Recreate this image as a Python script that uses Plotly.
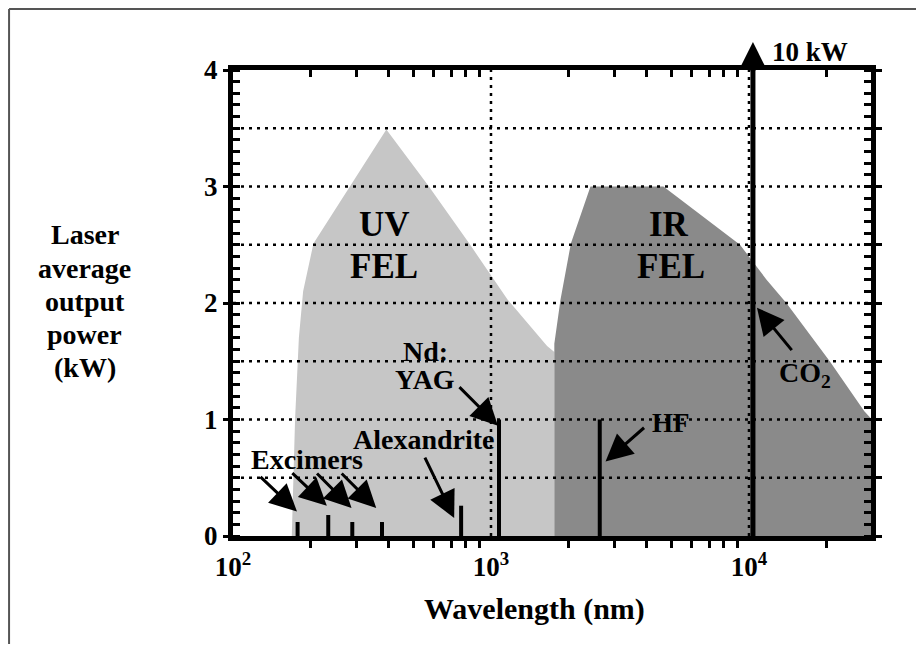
import numpy as np
import plotly.graph_objects as go

# ---------------- data ----------------
UV_WL = [169, 174, 180, 187, 205, 393, 570, 824, 1159, 1450, 1650, 1760, 1760]
UV_P = [0, 1.0, 1.7, 2.1, 2.51, 3.49, 3.01, 2.51, 2.03, 1.78, 1.63, 1.58, 0]

IR_WL = [1760, 1760, 1860, 2040, 2430, 4660, 9230, 11700, 13960, 20560, 28000, 30000, 30000]
IR_P = [0, 1.65, 2.03, 2.51, 3.0, 3.0, 2.5, 2.2, 2.0, 1.5, 1.07, 1.0, 0]

LASER_NAMES = ["ArF", "KrF", "XeCl", "XeF", "Alexandrite", "Nd:YAG", "HF"]
LASER_WL = [178, 234, 290, 378, 766, 1074, 2640]
LASER_P = [0.12, 0.18, 0.12, 0.12, 0.26, 1.0, 1.0]
CO2_WL = 10360
CO2_P = 10.0  # kW, off the scale

X_TICKS = [100, 1000, 10000]
X_TICKTEXT = ["10<sup>2</sup>", "10<sup>3</sup>", "10<sup>4</sup>"]
X_MINOR = [200, 300, 400, 500, 600, 700, 800, 900,
           2000, 3000, 4000, 5000, 6000, 7000, 8000, 9000, 20000]
Y_TICKS = [0, 1, 2, 3, 4]
GRID_Y = [0.5, 1.0, 1.5, 2.0, 2.5, 3.0, 3.5]
GRID_X = [1000, 10000]
X_RANGE = [2, 4.473]   # log10 units
Y_RANGE = [0, 4]
Y_TITLE_LINES = ["Laser", "average", "output", "power", "(kW)"]

# pointer arrows: head wavelength, head power, tail offset in pixels
ARROWS = [
    (177, 0.21, -38, -36),
    (231, 0.26, -36, -34),
    (288, 0.24, -36, -36),
    (359, 0.24, -36, -36),
    (720, 0.154, -30, -62),
    (1064, 0.947, -40, -40),
    (2780, 0.64, 40, -35),
    (10740, 1.96, 36, 44),
]

FONT = "Liberation Serif"
L = np.log10

fig = go.Figure()

# FEL regions
fig.add_trace(go.Scatter(x=UV_WL, y=UV_P, fill="toself", mode="lines",
                         line=dict(width=0), fillcolor="#c6c6c6",
                         hoverinfo="skip", showlegend=False))
fig.add_trace(go.Scatter(x=IR_WL, y=IR_P, fill="toself", mode="lines",
                         line=dict(width=0), fillcolor="#8a8a8a",
                         hoverinfo="skip", showlegend=False))

# dotted grid drawn above the shaded regions
xmin, xmax = 10 ** X_RANGE[0], 10 ** X_RANGE[1]
gx, gy = [], []
for v in GRID_Y:
    gx += [xmin, xmax, None]
    gy += [v, v, None]
for v in GRID_X:
    gx += [v, v, None]
    gy += [Y_RANGE[0], Y_RANGE[1], None]
fig.add_trace(go.Scatter(x=gx, y=gy, mode="lines",
                         line=dict(color="black", width=2.5, dash="3px,5px"),
                         hoverinfo="skip", showlegend=False))

# laser lines
lx, ly = [], []
for w, p in zip(LASER_WL, LASER_P):
    lx += [w, w, None]
    ly += [0, p, None]
fig.add_trace(go.Scatter(x=lx, y=ly, mode="lines",
                         line=dict(color="black", width=4),
                         hoverinfo="skip", showlegend=False))
fig.add_trace(go.Scatter(x=[CO2_WL, CO2_WL], y=[0, CO2_P], mode="lines",
                         line=dict(color="black", width=5),
                         hoverinfo="skip", showlegend=False))

# dummy trace for the mirrored (top/right) axes
fig.add_trace(go.Scatter(x=[1000], y=[0], xaxis="x2", yaxis="y2",
                         mode="markers", opacity=0, hoverinfo="skip",
                         showlegend=False))

tickfont = dict(family=FONT, size=27, color="black", weight="bold")

fig.update_layout(
    width=908, height=636,
    margin=dict(l=225, r=45, t=62, b=108),
    paper_bgcolor="white", plot_bgcolor="white",
    xaxis=dict(type="log", range=X_RANGE, tickmode="array", tickvals=X_TICKS,
               ticktext=X_TICKTEXT, ticks="", ticklabelstandoff=3,
               tickfont=tickfont, showgrid=False, zeroline=False,
               showline=True, linewidth=5, linecolor="black",
               minor=dict(ticks="outside", ticklen=7, tickwidth=3,
                          tickcolor="black", tickmode="array",
                          tickvals=X_MINOR, showgrid=False)),
    xaxis2=dict(type="log", range=X_RANGE, overlaying="x", side="top",
                showticklabels=False, ticks="", showgrid=False, zeroline=False,
                showline=True, linewidth=5, linecolor="black",
                tickmode="array", tickvals=X_TICKS,
                minor=dict(ticks="inside", ticklen=7, tickwidth=3,
                           tickcolor="black", tickmode="array",
                           tickvals=X_MINOR, showgrid=False)),
    yaxis=dict(range=Y_RANGE, tickmode="array", tickvals=Y_TICKS,
               ticks="outside", ticklen=5, tickwidth=3, tickcolor="black",
               tickfont=tickfont, showgrid=False, zeroline=False,
               showline=True, linewidth=5, linecolor="black",
               minor=dict(ticks="inside", ticklen=7, tickwidth=3,
                          tickcolor="black", dtick=0.1, showgrid=False)),
    yaxis2=dict(range=Y_RANGE, overlaying="y", side="right", dtick=0.5,
                showticklabels=False, ticks="outside", ticklen=6, tickwidth=3,
                tickcolor="black", showgrid=False, zeroline=False,
                showline=True, linewidth=5, linecolor="black",
                minor=dict(ticks="inside", ticklen=7, tickwidth=3,
                           tickcolor="black", dtick=0.1, showgrid=False)),
)

ann = []


def bold(size):
    return dict(family=FONT, size=size, color="black", weight="bold")


def label(text, x, y, size=28):
    ann.append(dict(text=text, x=L(x), y=y, xref="x", yref="y",
                    showarrow=False, font=bold(size), xanchor="center",
                    yanchor="middle"))


def plabel(text, x, y, size=28):
    ann.append(dict(text=text, x=x, y=y, xref="paper", yref="paper",
                    showarrow=False, font=bold(size), xanchor="center",
                    yanchor="middle"))


# region labels
label("UV", 385, 2.67, size=35)
label("FEL", 385, 2.31, size=35)
label("IR", 4900, 2.67, size=35)
label("FEL", 5000, 2.31, size=35)

# laser labels
label("Excimers", 193, 0.66)
label("Alexandrite", 551, 0.83)
label("Nd:", 556, 1.58)
label("YAG", 556, 1.34)
label("HF", 5000, 0.97, size=27)
label("CO<sub>2</sub>", 16500, 1.39)

# pointer arrows
for hx, hy, dx, dy in ARROWS:
    ann.append(dict(text="", x=L(hx), y=hy, xref="x", yref="y", ax=dx, ay=dy,
                    showarrow=True, arrowhead=2, arrowsize=1.8, arrowwidth=3,
                    arrowcolor="black", standoff=0))

# CO2 continues off the scale
ann.append(dict(text="", x=L(CO2_WL), y=4.24, xref="x", yref="y",
                ax=L(CO2_WL), ay=3.98, axref="x", ayref="y",
                showarrow=True, arrowhead=2, arrowsize=1, arrowwidth=5,
                arrowcolor="black", standoff=0))
plabel("10 kW", 0.904, 1.039, size=27)

# axis titles
for txt, yp in zip(Y_TITLE_LINES, [0.646, 0.575, 0.504, 0.433, 0.361]):
    plabel(txt, -0.232, yp, size=28)
plabel("Wavelength (nm)", 0.472, -0.157, size=30)

fig.update_layout(annotations=ann)

# scanned frame edges
fig.update_layout(shapes=[
    dict(type="line", xref="paper", yref="paper", x0=-0.351, x1=-0.351,
         y0=1.131, y1=-0.235, line=dict(color="#555", width=2)),
    dict(type="line", xref="paper", yref="paper", x0=-0.351, x1=1.072,
         y0=1.131, y1=1.131, line=dict(color="#555", width=2)),
])

fig.write_html("out.html")
